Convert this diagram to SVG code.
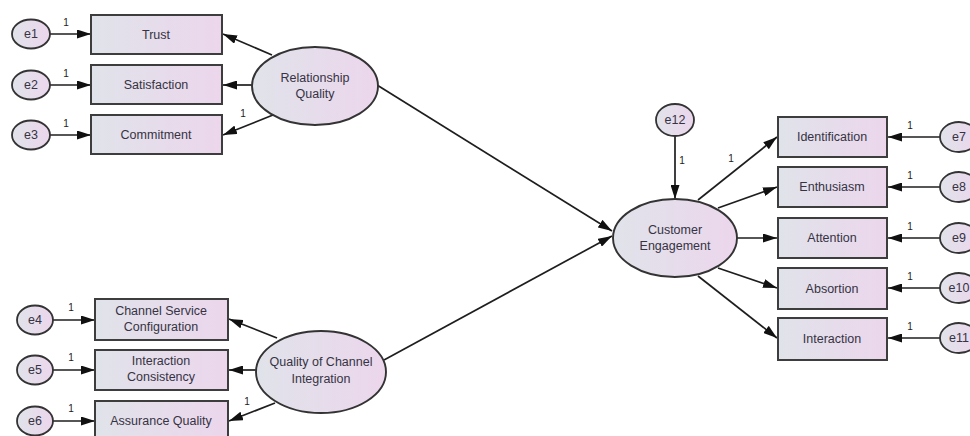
<svg xmlns="http://www.w3.org/2000/svg" width="970" height="436" viewBox="0 0 970 436">
<defs>
<linearGradient id="g" x1="0" y1="0" x2="1" y2="0">
<stop offset="0" stop-color="#e0e3ea"/>
<stop offset="1" stop-color="#ecd6ec"/>
</linearGradient>
<marker id="arr" viewBox="0 0 14 9" refX="14" refY="4.5" markerWidth="14" markerHeight="9" markerUnits="userSpaceOnUse" orient="auto">
<path d="M0,0 L14,4.5 L0,9 z" fill="#111"/>
</marker>
</defs>
<style>
rect.box{fill:url(#g);stroke:#3d3d3d;stroke-width:2}
ellipse.lat{fill:url(#g);stroke:#333;stroke-width:1.9}
ellipse.err{fill:url(#g);stroke:#333;stroke-width:1.8}
text{font-family:"Liberation Sans",Arial,sans-serif;fill:#363344;text-anchor:middle}
text.t{font-size:12.5px}
text.w{font-size:10px;fill:#222}
#connectors line{stroke:#1e1e1e;stroke-width:1.7;marker-end:url(#arr)}
</style>
<rect width="970" height="436" fill="#fff"/>

<g id="connectors">
<line x1="50" y1="34" x2="91" y2="34"/>
<line x1="50" y1="85" x2="91" y2="85"/>
<line x1="50" y1="135" x2="91" y2="135"/>
<line x1="272" y1="55" x2="223" y2="34"/>
<line x1="252" y1="85" x2="223" y2="85"/>
<line x1="273" y1="115" x2="223" y2="135"/>
<line x1="53" y1="320" x2="95" y2="320"/>
<line x1="53" y1="370" x2="95" y2="370"/>
<line x1="53" y1="421" x2="95" y2="421"/>
<line x1="277" y1="338" x2="229" y2="319"/>
<line x1="256" y1="370" x2="229" y2="370"/>
<line x1="275" y1="403" x2="229" y2="421"/>
<line x1="377" y1="85" x2="612" y2="231"/>
<line x1="384" y1="360" x2="612" y2="236"/>
<line x1="675" y1="135" x2="675" y2="199"/>
<line x1="698" y1="200" x2="777" y2="137"/>
<line x1="718" y1="208" x2="777" y2="187"/>
<line x1="737" y1="238" x2="777" y2="238"/>
<line x1="718" y1="268" x2="777" y2="288"/>
<line x1="698" y1="276" x2="777" y2="338"/>
<line x1="940" y1="137" x2="888" y2="137"/>
<line x1="940" y1="187" x2="888" y2="187"/>
<line x1="940" y1="238" x2="888" y2="238"/>
<line x1="940" y1="288" x2="888" y2="288"/>
<line x1="940" y1="338" x2="888" y2="338"/>
</g>

<g id="weights">
<text class="w" x="66" y="26">1</text>
<text class="w" x="66" y="77">1</text>
<text class="w" x="66" y="127">1</text>
<text class="w" x="243" y="117">1</text>
<text class="w" x="71" y="311">1</text>
<text class="w" x="71" y="361">1</text>
<text class="w" x="71" y="412">1</text>
<text class="w" x="247" y="405">1</text>
<text class="w" x="682" y="164">1</text>
<text class="w" x="731" y="162">1</text>
<text class="w" x="910" y="129">1</text>
<text class="w" x="910" y="179">1</text>
<text class="w" x="910" y="230">1</text>
<text class="w" x="910" y="280">1</text>
<text class="w" x="910" y="330">1</text>
</g>

<g id="e1"><ellipse class="err" cx="31" cy="34" rx="19" ry="14.5"/><text class="t" x="31" y="38">e1</text></g>
<g id="e2"><ellipse class="err" cx="31" cy="85" rx="19" ry="14.5"/><text class="t" x="31" y="89">e2</text></g>
<g id="e3"><ellipse class="err" cx="31" cy="135" rx="19" ry="14.5"/><text class="t" x="31" y="139">e3</text></g>
<g id="e4"><ellipse class="err" cx="35" cy="320" rx="18" ry="14.5"/><text class="t" x="35" y="324">e4</text></g>
<g id="e5"><ellipse class="err" cx="35" cy="370" rx="18" ry="14.5"/><text class="t" x="35" y="374">e5</text></g>
<g id="e6"><ellipse class="err" cx="35" cy="421" rx="18" ry="14.5"/><text class="t" x="35" y="425">e6</text></g>
<g id="e12"><ellipse class="err" cx="675" cy="120" rx="19" ry="16"/><text class="t" x="675" y="124">e12</text></g>
<g id="e7"><ellipse class="err" cx="959" cy="137" rx="19" ry="15"/><text class="t" x="959" y="141">e7</text></g>
<g id="e8"><ellipse class="err" cx="959" cy="187" rx="19" ry="15"/><text class="t" x="959" y="191">e8</text></g>
<g id="e9"><ellipse class="err" cx="959" cy="238" rx="19" ry="15"/><text class="t" x="959" y="242">e9</text></g>
<g id="e10"><ellipse class="err" cx="959" cy="288" rx="19" ry="15"/><text class="t" x="959" y="292">e10</text></g>
<g id="e11"><ellipse class="err" cx="959" cy="338" rx="19" ry="15"/><text class="t" x="959" y="342">e11</text></g>

<g id="trust"><rect class="box" x="91" y="15" width="131" height="39"/><text class="t" x="156" y="39">Trust</text></g>
<g id="satisfaction"><rect class="box" x="91" y="65" width="131" height="39"/><text class="t" x="156" y="89">Satisfaction</text></g>
<g id="commitment"><rect class="box" x="91" y="115" width="131" height="39"/><text class="t" x="156" y="139">Commitment</text></g>

<g id="csc"><rect class="box" x="95" y="299" width="133" height="41"/><text class="t" x="161" y="315">Channel Service</text><text class="t" x="161" y="331">Configuration</text></g>
<g id="ic"><rect class="box" x="95" y="350" width="133" height="40"/><text class="t" x="161" y="365">Interaction</text><text class="t" x="161" y="381">Consistency</text></g>
<g id="aq"><rect class="box" x="95" y="401" width="133" height="40"/><text class="t" x="161" y="425">Assurance Quality</text></g>

<g id="identification"><rect class="box" x="778" y="117" width="109" height="40"/><text class="t" x="832" y="141">Identification</text></g>
<g id="enthusiasm"><rect class="box" x="778" y="167" width="109" height="40"/><text class="t" x="832" y="191">Enthusiasm</text></g>
<g id="attention"><rect class="box" x="778" y="218" width="109" height="40"/><text class="t" x="832" y="242">Attention</text></g>
<g id="absortion"><rect class="box" x="778" y="268" width="109" height="41"/><text class="t" x="832" y="293">Absortion</text></g>
<g id="interaction"><rect class="box" x="778" y="318" width="109" height="42"/><text class="t" x="832" y="343">Interaction</text></g>

<g id="rq"><ellipse class="lat" cx="315" cy="86" rx="63" ry="39"/><text class="t" x="315" y="82">Relationship</text><text class="t" x="315" y="98">Quality</text></g>
<g id="qci"><ellipse class="lat" cx="321" cy="372" rx="65" ry="41"/><text class="t" x="321" y="366">Quality of Channel</text><text class="t" x="321" y="383">Integration</text></g>
<g id="ce"><ellipse class="lat" cx="675" cy="238" rx="62" ry="39"/><text class="t" x="675" y="234">Customer</text><text class="t" x="675" y="250">Engagement</text></g>
</svg>
